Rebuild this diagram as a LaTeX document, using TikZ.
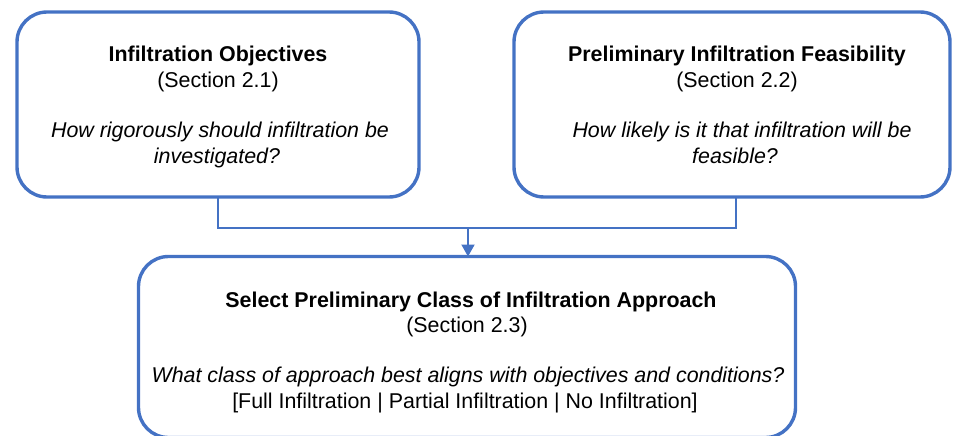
\documentclass[tikz,border=0pt]{standalone}
\usepackage{fontspec}
\setmainfont{Liberation Sans}
\usetikzlibrary{arrows.meta}
\definecolor{flowblue}{RGB}{68,114,196}
\tikzset{
  stepbox/.style={draw=flowblue, line width=3.4pt, rounded corners=30pt,
    rectangle, inner sep=0pt, outer sep=0pt},
  txt/.style={anchor=base, inner sep=0pt, font=\fontsize{21.4}{26}\selectfont},
  ttl/.style={txt, font=\fontsize{21.4}{26}\selectfont\bfseries},
  qst/.style={txt, font=\fontsize{21.4}{26}\selectfont\itshape},
  conn/.style={draw=flowblue, line width=2pt},
}
\begin{document}
\begin{tikzpicture}[x=1pt, y=-1pt]
  \useasboundingbox (0,0) rectangle (953,436);

  % three step boxes
  \node[stepbox, minimum width=402pt, minimum height=185pt] (obj) at (218,104.5) {};
  \node[stepbox, minimum width=436pt, minimum height=185pt] (feas) at (732,104.5) {};
  \node[stepbox, minimum width=657pt, minimum height=181pt] (sel) at (467,347) {};

  % infiltration objectives
  \node[ttl] (objT) at (218,62) {Infiltration Objectives};
  \node[txt] (objS) at (218,88) {(Section 2.1)};
  \node[qst] (objQa) at (220,137) {How rigorously should infiltration be};
  \node[qst] (objQb) at (217,163) {investigated?};

  % preliminary feasibility
  \node[ttl] (feasT) at (737,62) {Preliminary Infiltration Feasibility};
  \node[txt] (feasS) at (737,88) {(Section 2.2)};
  \node[qst] (feasQa) at (742,137) {How likely is it that infiltration will be};
  \node[qst] (feasQb) at (735,163) {feasible?};

  % class selection
  \node[ttl] (selT) at (471,307) {Select Preliminary Class of Infiltration Approach};
  \node[txt] (selS) at (467,332) {(Section 2.3)};
  \node[qst] (selQ) at (468,382) {What class of approach best aligns with objectives and conditions?};
  \node[txt] (selO) at (465,408) {[Full Infiltration | Partial Infiltration | No Infiltration]};

  % joining connector
  \coordinate (jl) at (218,228);
  \coordinate (jr) at (736,228);
  \coordinate (jm) at (468,228);
  \draw[conn] (obj.south) -- (jl) -- (jr) -- (jr |- feas.south);
  \draw[conn, -{Triangle[length=12pt, width=13pt]}] (jm) -- (jm |- sel.north);
\end{tikzpicture}
\end{document}
